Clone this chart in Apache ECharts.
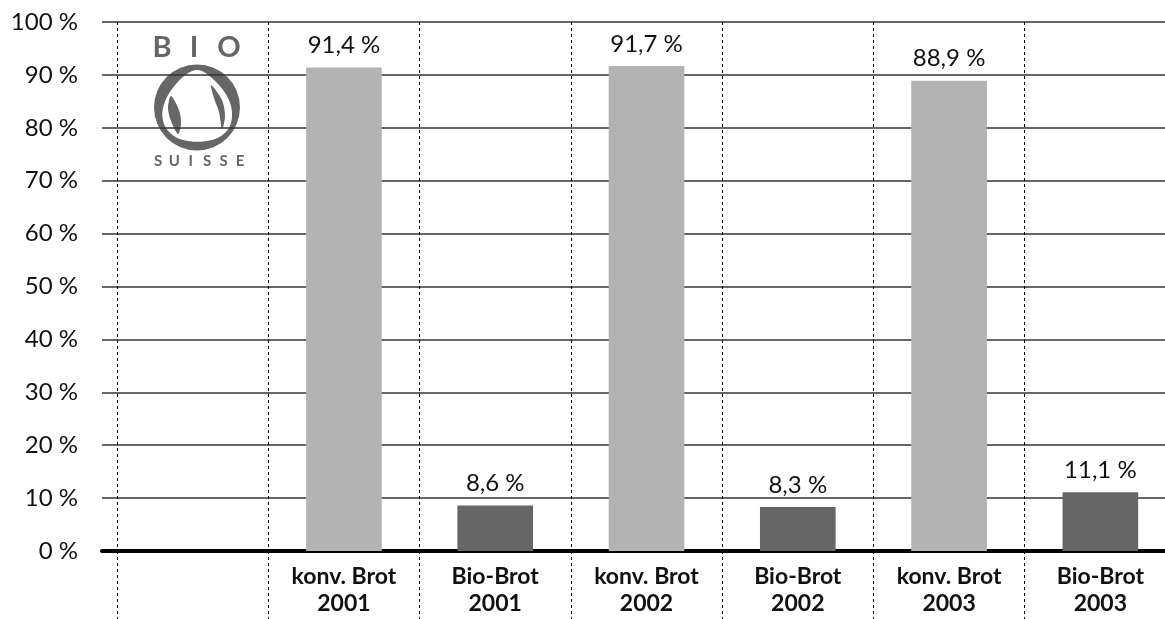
<!DOCTYPE html>
<html>
<head>
<meta charset="utf-8">
<script src="https://cdn.jsdelivr.net/npm/echarts@6/dist/echarts.min.js"></script>
<style>html,body{margin:0;padding:0;background:#fff;}#c{width:1165px;height:619px;}</style>
</head>
<body>
<div id="c"></div>
<script>
const categories = ['', 'konv. Brot\n2001', 'Bio-Brot\n2001', 'konv. Brot\n2002', 'Bio-Brot\n2002', 'konv. Brot\n2003', 'Bio-Brot\n2003'];
const shares = [null, 91.4, 8.6, 91.7, 8.3, 88.9, 11.1];
const barKinds = [null, 'konv', 'bio', 'konv', 'bio', 'konv', 'bio'];
const kindColors = { konv: '#b3b3b3', bio: '#666666' };
const yMin = 0, yMax = 100, yStep = 10;
const logoTop = ['B', 'I', 'O'];
const logoBottom = 'SUISSE'.split('');

const FONT = 'Lato, "Open Sans", sans-serif';
const chart = echarts.init(document.getElementById('c'), null, { renderer: 'canvas' });

const logo = [
  { type: 'circle', shape: { cx: 197, cy: 107.5, r: 43 }, style: { fill: '#666' } },
  { type: 'polygon', shape: { points: [[197, 70], [218, 84], [231, 106], [229, 128], [212, 140], [183, 140], [166, 128], [163, 108], [176, 84]], smooth: 0.35 }, style: { fill: '#fff' } },
  { type: 'polygon', shape: { points: [[171, 96], [179, 110], [181, 124], [178, 134], [171, 121], [168, 108]], smooth: 0.3 }, style: { fill: '#666' } },
  { type: 'polygon', shape: { points: [[211, 85], [222, 100], [225, 116], [222, 129], [219, 112], [214, 98]], smooth: 0.3 }, style: { fill: '#666' } }
];
const topX = [162, 194, 229];
logoTop.forEach((ch, i) => logo.push({ type: 'text', x: topX[i], y: 48, style: { text: ch, fontSize: 29, fontWeight: 'bold', fill: '#666', fontFamily: FONT, align: 'center', verticalAlign: 'middle' } }));
logoBottom.forEach((ch, i) => logo.push({ type: 'text', x: 158 + i * 16.4, y: 161, style: { text: ch, fontSize: 15, fontWeight: 'bold', fill: '#666', fontFamily: FONT, align: 'center', verticalAlign: 'middle' } }));

const option = {
  animation: false,
  backgroundColor: '#ffffff',
  grid: [
    { left: 102, right: 0, top: 22, bottom: 68, outerBoundsMode: 'none', containLabel: false },
    { left: 117, width: 1059, top: 22, bottom: 68, outerBoundsMode: 'none', containLabel: false }
  ],
  xAxis: [
    {
      gridIndex: 0, type: 'value', min: 0, max: 1,
      axisLine: { show: true, lineStyle: { color: '#000', width: 4 } },
      axisTick: { show: false }, axisLabel: { show: false }, splitLine: { show: false }
    },
    {
      gridIndex: 1, type: 'category', data: categories,
      axisLine: { show: false },
      axisTick: { show: true, interval: 0, length: 68, lineStyle: { color: '#000', width: 1, type: [3, 3] } },
      splitLine: { show: true, interval: 0, lineStyle: { color: '#000', width: 1, type: [3, 3] } },
      axisLabel: {
        interval: 0, margin: 12, color: '#111', fontFamily: FONT, fontWeight: 'bold',
        fontSize: 23, lineHeight: 27
      }
    }
  ],
  yAxis: [
    {
      gridIndex: 0, type: 'value', min: yMin, max: yMax, interval: yStep,
      axisLine: { show: false }, axisTick: { show: false },
      splitLine: { show: true, lineStyle: { color: '#333', width: 1.5 } },
      axisLabel: {
        margin: 24, color: '#111', fontFamily: FONT, fontSize: 24,
        formatter: v => v + ' %'
      }
    },
    {
      gridIndex: 1, type: 'value', min: yMin, max: yMax, interval: yStep, show: false,
      splitLine: { show: false }
    }
  ],
  series: [{
    type: 'bar', xAxisIndex: 1, yAxisIndex: 1, barWidth: '50%',
    data: shares.map((v, i) => v == null ? '-' : { value: v, itemStyle: { color: kindColors[barKinds[i]] } }),
    label: {
      show: true, position: 'top', distance: 10, color: '#111', fontFamily: FONT, fontSize: 24,
      formatter: p => p.value.toFixed(1).replace('.', ',') + ' %'
    }
  }],
  graphic: logo
};
chart.setOption(option);
</script>
</body>
</html>
